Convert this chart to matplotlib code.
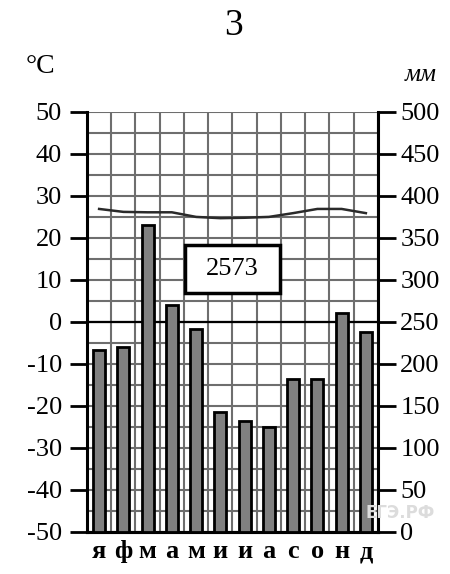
import matplotlib
matplotlib.use("Agg")
import matplotlib.pyplot as plt
from matplotlib.patches import Rectangle
import numpy as np

plt.rcParams['font.family'] = ['Liberation Serif', 'DejaVu Serif']
plt.rcParams['axes.unicode_minus'] = False

# climate data
months = ['я', 'ф', 'м', 'а', 'м', 'и', 'и', 'а', 'с', 'о', 'н', 'д']
temp = [26.9, 26.2, 26.1, 26.1, 25.0, 24.7, 24.8, 25.0, 25.9, 26.9, 26.9, 25.9]
precip = [216, 220, 365, 270, 241, 143, 132, 125, 182, 182, 260, 238]
total = '2573'
title = '3'

temp_ticks = list(range(-50, 51, 10))
precip_ticks = list(range(0, 501, 50))

fig = plt.figure(figsize=(4.5, 5.74), dpi=100)
ax = fig.add_axes([0.1933, 0.0737, 0.6467, 0.7312])
x = np.arange(len(months))

# grid
for xv in np.arange(-0.5, 12, 1):
    ax.axvline(xv, color='#6e6e6e', lw=1.5, zorder=1)
for yv in range(-50, 51, 5):
    ax.axhline(yv, color='#6e6e6e', lw=1.5, zorder=1)
ax.axhline(0, color='black', lw=1.6, zorder=2)

ax.plot(x, temp, color='#2a2a2a', lw=1.8, zorder=4)

ax.set_xlim(-0.5, 11.5)
ax.set_ylim(-50, 50)
ax.set_yticks(temp_ticks)
ax.set_yticklabels([str(t) for t in temp_ticks])
ax.set_xticks(x)
ax.set_xticklabels(months, fontweight='bold', fontsize=19)
ax.tick_params(axis='x', length=0, pad=6)
ax.tick_params(axis='y', length=12, width=2, direction='out', labelsize=19, pad=6)
for s in ['left', 'bottom']:
    ax.spines[s].set_linewidth(2.2)
ax.spines['top'].set_visible(False)
ax.spines['right'].set_visible(False)

ax.add_patch(Rectangle((0.3368, 0.5687), 0.3265, 0.1144, transform=ax.transAxes,
                       facecolor='white', edgecolor='black', lw=2.5, zorder=5))
ax.text(0.3368 + 0.3265 / 2, 0.5687 + 0.1144 / 2, total, transform=ax.transAxes,
        ha='center', va='center', fontsize=19, zorder=6)

ax2 = ax.twinx()
ax2.bar(x, precip, width=0.5, color='#808080', edgecolor='black', lw=2, zorder=3)
ax2.set_ylim(0, 500)
ax2.set_yticks(precip_ticks)
ax2.set_yticklabels([str(p) for p in precip_ticks])
ax2.tick_params(axis='y', length=13, width=2, direction='out', labelsize=19, pad=3)
ax2.spines['right'].set_linewidth(2.2)
ax2.spines['top'].set_visible(False)
ax2.spines['left'].set_visible(False)
ax2.spines['bottom'].set_linewidth(2.2)

fig.text(0.518, 0.955, title, ha='center', va='center', fontsize=27)
fig.text(0.09, 0.885, '°C', ha='center', va='center', fontsize=20)
fig.text(0.935, 0.870, 'мм', ha='center', va='center', fontsize=18, style='italic')
fig.text(0.89, 0.106, 'ЕГЭ.РФ', ha='center', va='center', fontsize=12,
         color='#dcdcdc', fontweight='bold', family='DejaVu Sans', zorder=0)

fig.savefig('out.png', dpi=100)
